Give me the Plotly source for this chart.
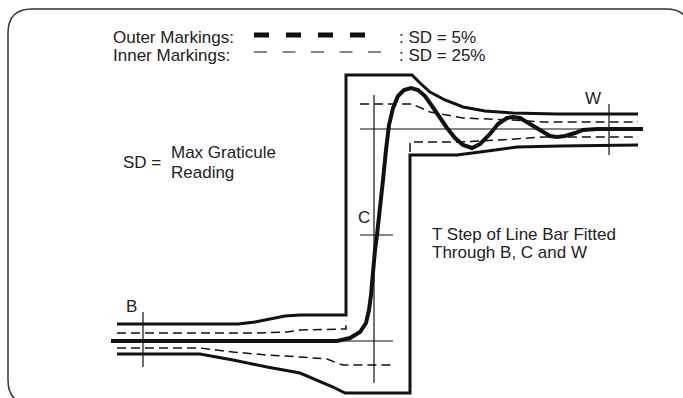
import plotly.graph_objects as go

# ---------------- diagram data (pixel-space coordinates) ----------------
# outer (SD = 5%) mask, upper boundary: left plateau, box left side, box top, decaying to right plateau
outer_upper_x = [117, 238, 255, 270, 285, 300, 346, 346, 412, 420, 430, 445, 463, 485, 513, 557, 638]
outer_upper_y = [324, 324, 322, 319, 316, 315, 315, 75, 75, 83, 92, 100, 107, 111, 113, 114, 114]
# outer mask, lower boundary
outer_lower_x = [117, 200, 233, 267, 300, 317, 333, 345, 410, 410, 457, 480, 517, 560, 638]
outer_lower_y = [354, 354, 360, 367, 373, 380, 387, 393, 393, 155, 155, 152, 147, 146, 145]

# inner (SD = 25%) mask segments
inner_ul_x = [117, 257, 287, 300, 346, 346]
inner_ul_y = [333, 333, 332, 330, 329, 320]
inner_ll_x = [117, 200, 233, 267, 300, 327, 337, 343, 393]
inner_ll_y = [348, 348, 352, 355, 357, 359, 363, 365, 365]
inner_ur_x = [360, 412, 430, 463, 513, 543, 638]
inner_ur_y = [104, 104, 112, 118, 120, 122, 122]
inner_lr_x = [410, 410, 457, 500, 543, 638]
inner_lr_y = [152, 142, 142, 140, 137, 137]

# step response (thick curve)
resp_x = [111, 337, 350, 360, 366, 369, 371, 373, 375, 377, 380, 383, 386, 389, 393, 398, 404, 411,
          418, 425, 432, 440, 447, 455, 463, 472, 480, 490, 498, 507, 513, 520, 530, 540, 550, 557,
          565, 575, 583, 597, 643]
resp_y = [341, 341, 338, 332, 323, 310, 295, 270, 250, 235, 210, 180, 150, 125, 108, 96, 90, 88,
          90, 96, 106, 118, 128, 138, 145, 148, 144, 134, 124, 118, 117, 118, 124, 131, 136, 137,
          136, 133, 130, 129, 129]

# thin reference lines (base level, top level, C vertical, ticks at B, C, W)
thin_lines = [
    ([337, 393], [341, 341]),
    ([360, 643], [129, 129]),
    ([374, 374], [95, 383]),
    ([360, 393], [235, 235]),
    ([143, 143], [312, 367]),
    ([609, 609], [104, 155]),
]

# legend sample dashes
legend_outer_x = [254, 366]
legend_outer_y = [35, 35]
legend_inner_x = [254, 381]
legend_inner_y = [52, 52]

# texts: (label, x, y)
texts = [
    ("Outer Markings:", 111, 37),
    ("Inner Markings:", 111, 55),
    (": SD = 5%", 397, 37),
    (": SD = 25%", 397, 55),
    ("SD =", 121, 162),
    ("Max Graticule", 169, 152),
    ("Reading", 169, 172),
    ("C", 356, 217),
    ("T Step of Line Bar Fitted", 430, 234),
    ("Through B, C and W", 430, 252),
    ("B", 124, 306),
    ("W", 583, 98),
]

INK = "#111111"
fig = go.Figure()

def add_line(x, y, width, dash="solid", color=INK):
    fig.add_trace(go.Scatter(x=x, y=y, mode="lines", hoverinfo="skip", showlegend=False,
                             line=dict(color=color, width=width, dash=dash)))

for xs, ys in thin_lines:
    add_line(xs, ys, 1.2)

inner_dash = "9px,5px"
add_line(inner_ul_x, inner_ul_y, 1.5, inner_dash)
add_line(inner_ll_x, inner_ll_y, 1.5, inner_dash)
add_line(inner_ur_x, inner_ur_y, 1.5, inner_dash)
add_line(inner_lr_x, inner_lr_y, 1.5, inner_dash)

add_line(outer_upper_x, outer_upper_y, 3)
add_line(outer_lower_x, outer_lower_y, 3)

add_line(resp_x, resp_y, 4)

add_line(legend_outer_x, legend_outer_y, 5, "15px,17px")
add_line(legend_inner_x, legend_inner_y, 1.2, "13px,15.5px")

for label, x, y in texts:
    fig.add_annotation(x=x, y=y, text=label, showarrow=False, xanchor="left", yanchor="middle",
                       xref="x", yref="y", font=dict(family="Liberation Sans, Arial, sans-serif",
                                                      size=17, color="#222222"))

# rounded frame
fig.add_shape(type="path", xref="x", yref="y",
              path="M 32,9 L 666,9 Q 690,9 690,33 L 690,380 Q 690,404 666,404 L 32,404 "
                   "Q 8,404 8,380 L 8,33 Q 8,9 32,9 Z",
              line=dict(color="#333333", width=1.5), fillcolor="rgba(0,0,0,0)")

fig.update_layout(
    width=683, height=398,
    margin=dict(l=0, r=0, t=0, b=0),
    paper_bgcolor="white", plot_bgcolor="white",
    xaxis=dict(range=[0, 683], visible=False, fixedrange=True),
    yaxis=dict(range=[398, 0], visible=False, fixedrange=True),
    showlegend=False,
)

fig.write_html("out.html", config={"displayModeBar": False},
               post_script="document.body.style.margin='0';document.body.style.overflow='hidden';")
